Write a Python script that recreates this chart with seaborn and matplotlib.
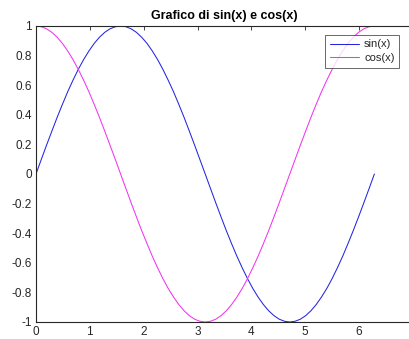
import pandas as pd
import matplotlib
matplotlib.use("Agg")
import matplotlib.pyplot as plt
from matplotlib.lines import Line2D
import seaborn as sns

# Sample points (step pi/32 over one period)
x_vals = [0.000, 0.098, 0.196, 0.295, 0.393, 0.491, 0.589, 0.687, 0.785, 0.884,
          0.982, 1.080, 1.178, 1.276, 1.374, 1.473, 1.571, 1.669, 1.767, 1.865,
          1.963, 2.062, 2.160, 2.258, 2.356, 2.454, 2.553, 2.651, 2.749, 2.847,
          2.945, 3.043, 3.142, 3.240, 3.338, 3.436, 3.534, 3.632, 3.731, 3.829,
          3.927, 4.025, 4.123, 4.222, 4.320, 4.418, 4.516, 4.614, 4.712, 4.811,
          4.909, 5.007, 5.105, 5.203, 5.301, 5.400, 5.498, 5.596, 5.694, 5.792,
          5.890, 5.989, 6.087, 6.185, 6.283]
sin_vals = [0.000, 0.098, 0.195, 0.290, 0.383, 0.471, 0.556, 0.634, 0.707, 0.773,
            0.831, 0.882, 0.924, 0.957, 0.981, 0.995, 1.000, 0.995, 0.981, 0.957,
            0.924, 0.882, 0.831, 0.773, 0.707, 0.634, 0.556, 0.471, 0.383, 0.290,
            0.195, 0.098, 0.000, -0.098, -0.195, -0.290, -0.383, -0.471, -0.556, -0.634,
            -0.707, -0.773, -0.831, -0.882, -0.924, -0.957, -0.981, -0.995, -1.000, -0.995,
            -0.981, -0.957, -0.924, -0.882, -0.831, -0.773, -0.707, -0.634, -0.556, -0.471,
            -0.383, -0.290, -0.195, -0.098, 0.000]
cos_vals = [1.000, 0.995, 0.981, 0.957, 0.924, 0.882, 0.831, 0.773, 0.707, 0.634,
            0.556, 0.471, 0.383, 0.290, 0.195, 0.098, 0.000, -0.098, -0.195, -0.290,
            -0.383, -0.471, -0.556, -0.634, -0.707, -0.773, -0.831, -0.882, -0.924, -0.957,
            -0.981, -0.995, -1.000, -0.995, -0.981, -0.957, -0.924, -0.882, -0.831, -0.773,
            -0.707, -0.634, -0.556, -0.471, -0.383, -0.290, -0.195, -0.098, 0.000, 0.098,
            0.195, 0.290, 0.383, 0.471, 0.556, 0.634, 0.707, 0.773, 0.831, 0.882,
            0.924, 0.957, 0.981, 0.995, 1.000]
series_names = ["sin(x)", "cos(x)"]
series_colors = ["#2525e0", "#f035f0"]
x_ticks = [0, 1, 2, 3, 4, 5, 6]
y_ticks = [-1, -0.8, -0.6, -0.4, -0.2, 0, 0.2, 0.4, 0.6, 0.8, 1]
y_tick_labels = ["-1", "-0.8", "-0.6", "-0.4", "-0.2", "0", "0.2", "0.4", "0.6", "0.8", "1"]

df = pd.DataFrame({
    "x": x_vals + x_vals,
    "y": sin_vals + cos_vals,
    "serie": [series_names[0]] * len(x_vals) + [series_names[1]] * len(x_vals),
})

sns.set_style("white")
plt.rcParams["font.family"] = ["Liberation Sans", "DejaVu Sans"]

W, H = 409, 339
fig = plt.figure(figsize=(W / 100, H / 100), dpi=100, facecolor="white")
# axes box runs slightly past the right edge of the figure (x up to 7)
ax = fig.add_axes([36 / W, (H - 322) / H, (413 - 36) / W, (322 - 26) / H])

axis_col = "#262626"
sns.lineplot(data=df, x="x", y="y", hue="serie",
             palette=dict(zip(series_names, series_colors)),
             linewidth=0.75, ax=ax, legend=False, sort=False)

ax.set_xlim(0, 7)
ax.set_ylim(-1, 1)
ax.set_xticks(x_ticks)
ax.set_xticklabels([str(t) for t in x_ticks])
ax.set_yticks(y_ticks)
ax.set_yticklabels(y_tick_labels)
ax.set_xlabel("")
ax.set_ylabel("")

for s in ax.spines.values():
    s.set_color(axis_col)
    s.set_linewidth(0.8)
ax.tick_params(direction="in", length=3, width=0.6, colors=axis_col,
               labelsize=8.5, top=True, right=True, pad=3)

ax.set_title("Grafico di sin(x) e cos(x)", fontsize=9, fontweight="bold",
             color="black", pad=5)

handles = [Line2D([0], [0], color=c, lw=0.75) for c in series_colors]
leg = ax.legend(handles, series_names, loc="upper right",
                bbox_to_anchor=((399 - 36) / (413 - 36), (322 - 35) / (322 - 26)),
                fontsize=8, frameon=True, fancybox=False, handlelength=2.6,
                handletextpad=0.5, borderpad=0.4, labelspacing=0.35,
                borderaxespad=0)
leg.get_frame().set_edgecolor(axis_col)
leg.get_frame().set_linewidth(0.6)
for t in leg.get_texts():
    t.set_color(axis_col)

fig.savefig("out.png", dpi=100, facecolor="white")
